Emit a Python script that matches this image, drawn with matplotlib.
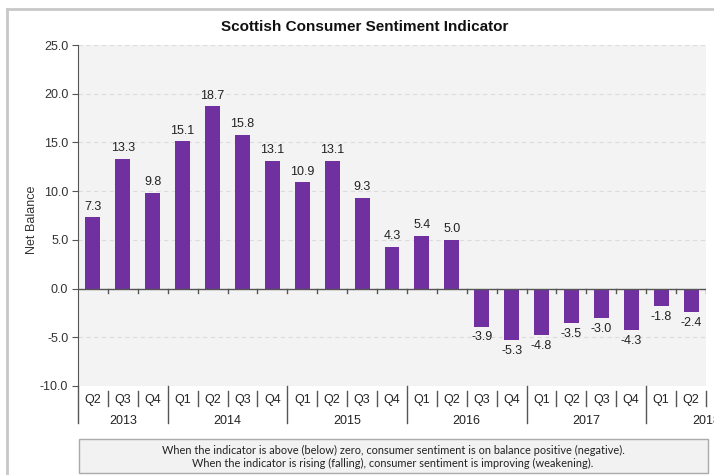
import matplotlib.pyplot as plt
from matplotlib.patches import Rectangle
from matplotlib.lines import Line2D

# quarterly net balance, Q2 2013 .. Q2 2018
quarters = ['Q2', 'Q3', 'Q4',
            'Q1', 'Q2', 'Q3', 'Q4',
            'Q1', 'Q2', 'Q3', 'Q4',
            'Q1', 'Q2', 'Q3', 'Q4',
            'Q1', 'Q2', 'Q3', 'Q4',
            'Q1', 'Q2']
values = [7.3, 13.3, 9.8,
          15.1, 18.7, 15.8, 13.1,
          10.9, 13.1, 9.3, 4.3,
          5.4, 5.0, -3.9, -5.3,
          -4.8, -3.5, -3.0, -4.3,
          -1.8, -2.4]
years = ['2013', '2014', '2015', '2016', '2017', '2018']
year_centers = [1, 4.5, 8.5, 12.5, 16.5, 20.5]
year_breaks = [2.5, 6.5, 10.5, 14.5, 18.5]
yticks = [25.0, 20.0, 15.0, 10.0, 5.0, 0.0, -5.0, -10.0]

plt.rcParams['font.family'] = ['Liberation Sans', 'DejaVu Sans']

fig = plt.figure(figsize=(7.14, 4.75), dpi=100)
W, H = 714, 475
ax = fig.add_axes([78 / W, 1 - 386 / H, (706 - 78) / W, (386 - 45) / H])
ax.set_facecolor('#f3f3f3')

x = list(range(len(values)))
ax.bar(x, values, width=0.5, color='#7030a0', zorder=3)

for xi, v in zip(x, values):
    if v >= 0:
        ax.text(xi, v + 0.5, f'{v:.1f}', ha='center', va='bottom', fontsize=9, color='#222222')
    else:
        ax.text(xi, v - 0.5, f'{v:.1f}', ha='center', va='top', fontsize=9, color='#222222')

ax.set_xlim(-0.5, 20.5)
ax.set_ylim(-10, 25)
ax.set_yticks(yticks)
ax.set_yticklabels([f'{t:.1f}' for t in yticks], fontsize=9, color='#333333')
ax.tick_params(axis='y', length=4, color='#555555', pad=3)
ax.yaxis.grid(True, linestyle=(0, (4, 3)), color='#dcdcdc', linewidth=0.8, zorder=0)
ax.set_axisbelow(True)

for s in ['top', 'right', 'bottom']:
    ax.spines[s].set_visible(False)
ax.spines['left'].set_color('#555555')

# zero line with category ticks
ax.axhline(0, color='#555555', linewidth=1, zorder=4)
ax.set_xticks([])
for b in [i + 0.5 for i in range(len(values))]:
    ax.plot([b, b], [0, -0.5], color='#555555', linewidth=1, zorder=4)

# category axis below plot
trans = ax.get_xaxis_transform()
ph = 386 - 45
for i, q in enumerate(quarters):
    ax.text(i, -14 / ph, q, transform=trans, ha='center', va='center', fontsize=9, color='#222222', clip_on=False)
for b in [i + 0.5 for i in range(len(values))]:
    if b in year_breaks:
        continue
    ax.add_line(Line2D([b, b], [-5 / ph, -20 / ph], transform=trans, color='#555555', linewidth=1, clip_on=False))
for b in [-0.5] + year_breaks:
    ax.add_line(Line2D([b, b], [0, -37 / ph], transform=trans, color='#555555', linewidth=1, clip_on=False))
for yl, c in zip(years, year_centers):
    ax.text(c, -35 / ph, yl, transform=trans, ha='center', va='center', fontsize=9, color='#222222', clip_on=False)

fig.text(32 / W, 1 - 220 / H, 'Net Balance', rotation=90, ha='center', va='center', fontsize=9, color='#333333')

fig.text(365 / W, 1 - 27 / H, 'Scottish Consumer Sentiment Indicator', ha='center', va='center',
         fontsize=11, fontweight='bold', color='#111111')

# outer chart frame (cut off at right and bottom)
fig.add_artist(Line2D([7 / W, 7 / W], [0, 1 - 9 / H], transform=fig.transFigure, color='#c8c8c8', linewidth=2))
fig.add_artist(Line2D([7 / W, 1], [1 - 9 / H, 1 - 9 / H], transform=fig.transFigure, color='#c8c8c8', linewidth=2))

# footnote box
fig.add_artist(Rectangle((79 / W, 1 - 473 / H), (708 - 79) / W, (473 - 439) / H, transform=fig.transFigure,
                         facecolor='#f2f2f2', edgecolor='#aaaaaa', linewidth=1))
fig.text(393 / W, 1 - 450 / H,
         'When the indicator is above (below) zero, consumer sentiment is on balance positive (negative).',
         ha='center', va='center', fontsize=7.9, family=['Lato', 'DejaVu Sans'], color='#222222')
fig.text(393 / W, 1 - 463 / H,
         'When the indicator is rising (falling), consumer sentiment is improving (weakening).',
         ha='center', va='center', fontsize=7.9, family=['Lato', 'DejaVu Sans'], color='#222222')

fig.savefig('out.png', dpi=100)
